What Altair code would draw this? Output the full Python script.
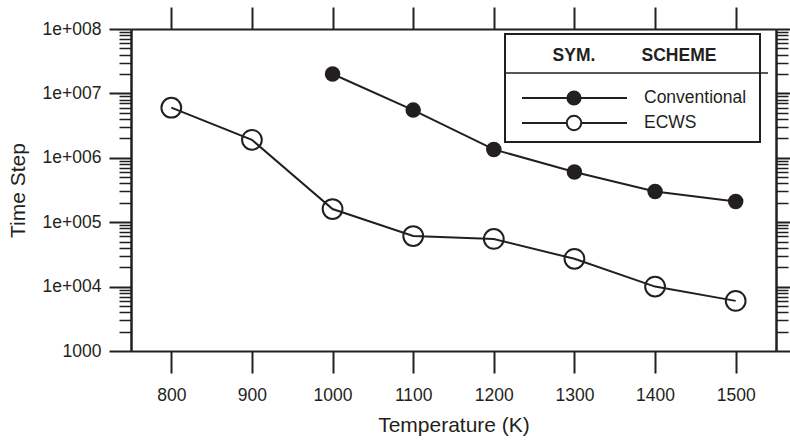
import altair as alt
import pandas as pd

# ---- data ----
series_names = ["Conventional", "ECWS"]
temps_conv = [1000, 1100, 1200, 1300, 1400, 1500]
steps_conv = [2.0e7, 5.5e6, 1.35e6, 6.0e5, 3.0e5, 2.1e5]
temps_ecws = [800, 900, 1000, 1100, 1200, 1300, 1400, 1500]
steps_ecws = [6.0e6, 1.9e6, 1.6e5, 6.1e4, 5.5e4, 2.7e4, 1.0e4, 6.0e3]

x_ticks = [800, 900, 1000, 1100, 1200, 1300, 1400, 1500]
y_major = [1000, 10000, 100000, 1000000, 10000000, 100000000]
y_major_labels = ["1000", "1e+004", "1e+005", "1e+006", "1e+007", "1e+008"]
y_minor = [m * 10 ** k for k in range(3, 8) for m in range(2, 10)]

x_title = "Temperature (K)"
y_title = "Time Step"
legend_head = ["SYM.", "SCHEME"]

INK = "#231f20"
FONT = "Liberation Sans"

conv = pd.DataFrame({"temp": temps_conv, "step": steps_conv})
ecws = pd.DataFrame({"temp": temps_ecws, "step": steps_ecws})

xs = alt.Scale(domain=[750, 1550], nice=False, zero=False)
ys = alt.Scale(type="log", domain=[1000, 1e8], nice=False)

label_expr = ""
for v, lab in zip(y_major, y_major_labels):
    label_expr += f"round(datum.value) == {v} ? '{lab}' : "
label_expr += "''"

common = dict(grid=False, domainColor=INK, domainWidth=2, tickColor=INK)

ax_bottom = alt.Axis(orient="bottom", values=x_ticks, tickSize=22, tickWidth=2,
                     format="d", labelFont=FONT, labelFontSize=17.5, labelColor=INK,
                     labelPadding=13, labelOverlap=False, labelFlush=False,
                     title=x_title, titleFont=FONT, titleFontSize=21,
                     titleFontWeight="normal", titleColor=INK,
                     titleY=74, titleBaseline="middle", **common)
ax_top = alt.Axis(orient="top", values=x_ticks, tickSize=22, tickWidth=2,
                  labels=False, title=None, **common)
ax_left_major = alt.Axis(orient="left", values=y_major, tickSize=22, tickWidth=2,
                         labelExpr=label_expr, labelFont=FONT, labelFontSize=17.5,
                         labelColor=INK, labelPadding=8, labelOverlap=False,
                         labelFlush=False,
                         title=y_title, titleFont=FONT, titleFontSize=21,
                         titleFontWeight="normal", titleColor=INK,
                         titleX=-113, titleY=161, titleAngle=270,
                         titleBaseline="middle", titleAlign="center", **common)
ax_left_minor = alt.Axis(orient="left", values=y_minor, tickSize=12, tickWidth=1.5,
                         labels=False, title=None, **common)
ax_right_minor = alt.Axis(orient="right", values=y_minor, tickSize=12, tickWidth=1.5,
                          labels=False, title=None, **common)
ax_right_major = alt.Axis(orient="right", values=y_major, tickSize=14, tickWidth=2,
                          labels=False, title=None, **common)

ecws_line = alt.Chart(ecws).mark_line(color=INK, strokeWidth=2).encode(
    x=alt.X("temp:Q", scale=xs, axis=ax_bottom),
    y=alt.Y("step:Q", scale=ys, axis=ax_left_major),
)
ecws_pts = alt.Chart(ecws).mark_point(shape="circle", size=390, filled=False,
                                      stroke=INK, strokeWidth=2, opacity=1).encode(
    x=alt.X("temp:Q", scale=xs, axis=ax_top),
    y=alt.Y("step:Q", scale=ys, axis=ax_left_minor),
)
conv_line = alt.Chart(conv).mark_line(color=INK, strokeWidth=2).encode(
    x=alt.X("temp:Q", scale=xs, axis=None),
    y=alt.Y("step:Q", scale=ys, axis=ax_right_minor),
)
conv_pts = alt.Chart(conv).mark_circle(size=240, color=INK, opacity=1).encode(
    x=alt.X("temp:Q", scale=xs, axis=None),
    y=alt.Y("step:Q", scale=ys, axis=ax_right_major),
)

# ---- hand-drawn legend box (as in the reference) ----
leg_box = alt.Chart().mark_rect(fill="white", stroke=INK, strokeWidth=2).encode(
    x=alt.value(374), x2=alt.value(629), y=alt.value(5), y2=alt.value(113))
leg_sep = alt.Chart().mark_rule(color=INK, strokeWidth=1.5).encode(
    x=alt.value(374), x2=alt.value(637), y=alt.value(44))
leg_h1 = alt.Chart().mark_text(font=FONT, fontSize=17.5, fontWeight="bold",
                               color=INK, align="center", baseline="middle").encode(
    x=alt.value(443), y=alt.value(27), text=alt.value(legend_head[0]))
leg_h2 = alt.Chart().mark_text(font=FONT, fontSize=17.5, fontWeight="bold",
                               color=INK, align="center", baseline="middle").encode(
    x=alt.value(548), y=alt.value(27), text=alt.value(legend_head[1]))
leg_l1 = alt.Chart().mark_rule(color=INK, strokeWidth=2).encode(
    x=alt.value(391), x2=alt.value(496), y=alt.value(69))
leg_l2 = alt.Chart().mark_rule(color=INK, strokeWidth=2).encode(
    x=alt.value(391), x2=alt.value(496), y=alt.value(94))
leg_m1 = alt.Chart().mark_point(shape="circle", size=230, filled=True, color=INK,
                                opacity=1).encode(x=alt.value(443), y=alt.value(69))
leg_m2 = alt.Chart().mark_point(shape="circle", size=210, fill="white", stroke=INK,
                                strokeWidth=2, opacity=1, fillOpacity=1).encode(
    x=alt.value(443), y=alt.value(94))
leg_t1 = alt.Chart().mark_text(font=FONT, fontSize=17.5, color=INK, align="left",
                               baseline="middle").encode(
    x=alt.value(513), y=alt.value(69), text=alt.value(series_names[0]))
leg_t2 = alt.Chart().mark_text(font=FONT, fontSize=17.5, color=INK, align="left",
                               baseline="middle").encode(
    x=alt.value(513), y=alt.value(94), text=alt.value(series_names[1]))

chart = alt.layer(
    ecws_line, ecws_pts, conv_line, conv_pts,
    leg_box, leg_sep, leg_h1, leg_h2, leg_l1, leg_l2, leg_m1, leg_m2, leg_t1, leg_t2,
).resolve_axis(x="independent", y="independent").properties(
    width=645, height=322,
    autosize=alt.AutoSizeParams(type="none"),
    padding={"left": 131, "top": 29, "right": 14, "bottom": 89},
    background="white",
).configure_view(stroke=None)

chart.save("out.html", embed_options={"renderer": "svg", "actions": False})
